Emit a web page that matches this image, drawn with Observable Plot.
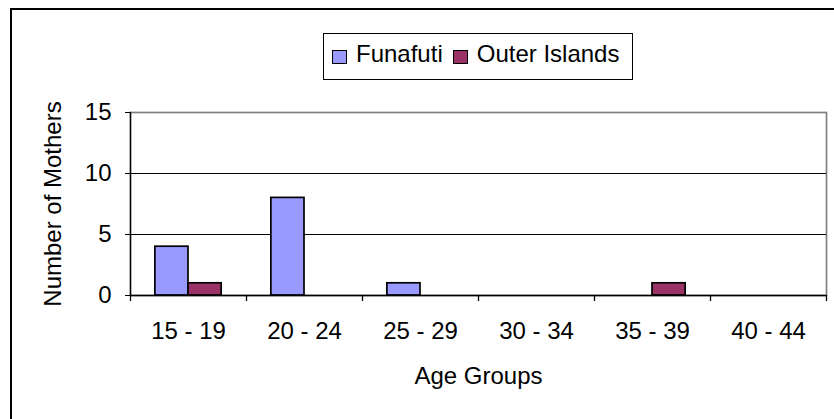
<!DOCTYPE html>
<html>
<head>
<meta charset="utf-8">
<script src="https://cdn.jsdelivr.net/npm/d3@7"></script>
<script src="https://cdn.jsdelivr.net/npm/@observablehq/plot@0.6"></script>
<style>
  body { margin: 0; background: #fff; font-family: "Liberation Sans", Arial, sans-serif; }
  #wrap { position: relative; width: 834px; height: 419px; overflow: hidden; background: #fff; }
  #chart { position: absolute; left: 0; top: 0; }
  #frame { position: absolute; left: 10px; top: 8px; width: 900px; height: 500px; border: 2px solid #000; pointer-events: none; }
  #legend { position: absolute; left: 323px; top: 33px; height: 45px; border: 1px solid #000; background: #fff;
            display: flex; align-items: center; padding: 0 13px 0 8px; font-size: 24px; color: #000; white-space: nowrap; }
  #legend .sw { width: 13px; height: 12px; border: 1.5px solid #000; display: inline-block; }
  #legend .lb { position: relative; top: -3px; margin-left: 9px; margin-right: 10px; }
  #legend .lb:last-child { margin-right: 0; }
</style>
</head>
<body>
<div id="wrap">
  <div id="chart"></div>
  <div id="frame"></div>
  <div id="legend"></div>
</div>
<script>
const ageGroups = ["15 - 19", "20 - 24", "25 - 29", "30 - 34", "35 - 39", "40 - 44"];
const funafuti = [4, 8, 1, 0, 0, 0];
const outerIslands = [1, 0, 0, 0, 1, 0];
const seriesNames = ["Funafuti", "Outer Islands"];
const seriesColors = ["#9999FF", "#993366"];
const yTicks = [0, 5, 10, 15];
const xTitle = "Age Groups";
const yTitle = "Number of Mothers";

const seriesValues = [funafuti, outerIslands];
const rows = seriesNames.flatMap((s, si) =>
  ageGroups.map((a, i) => ({age: a, series: s, value: seriesValues[si][i]})));

const W = 834, H = 419, mL = 130, mR = 8, mT = 112, mB = 124;
const step = (W - mL - mR) / ageGroups.length;
const barW = step / 3.5;
const gap = barW * 0.75;
const FS = 24;

function barsFor(si) {
  const leftInset = si === 0 ? gap : gap + barW;
  const rightInset = step - leftInset - barW;
  return Plot.barY(rows.filter(d => d.series === seriesNames[si] && d.value > 0), {
    x: "age", y: "value", fill: seriesColors[si], stroke: "#000", strokeWidth: 1.7,
    insetLeft: leftInset, insetRight: rightInset
  });
}

const chart = Plot.plot({
  width: W, height: H,
  marginLeft: mL, marginRight: mR, marginTop: mT, marginBottom: mB,
  style: {fontFamily: '"Liberation Sans", Arial, sans-serif', color: "#000", background: "#fff", overflow: "visible"},
  x: {domain: ageGroups, padding: 0},
  y: {domain: [yTicks[0], yTicks[yTicks.length - 1]], nice: false},
  marks: [
    Plot.frame({stroke: "#808080", strokeWidth: 1.7}),
    Plot.ruleY(yTicks.slice(1, -1), {stroke: "#000", strokeWidth: 1}),
    barsFor(0),
    barsFor(1),
    Plot.frame({anchor: "left", stroke: "#000", strokeWidth: 1.3}),
    Plot.ruleY([0], {stroke: "#000", strokeWidth: 1.3}),
    Plot.ruleX(ageGroups, {dx: -step / 2, y1: 0, y2: 0, insetBottom: -6, stroke: "#000", strokeWidth: 1.3}),
    Plot.ruleX([ageGroups[ageGroups.length - 1]], {dx: step / 2, y1: 0, y2: 0, insetBottom: -6, stroke: "#000", strokeWidth: 1.3}),
    Plot.axisY({ticks: yTicks, tickSize: 5, tickPadding: 14, fontSize: FS, label: null}),
    Plot.axisX({tickSize: 0, tickPadding: 26, fontSize: FS, label: null}),
    Plot.text([yTitle], {frameAnchor: "left", rotate: -90, dx: -77, fontSize: FS, textAnchor: "middle", lineAnchor: "middle"}),
    Plot.text([xTitle], {frameAnchor: "bottom", dy: 81, fontSize: FS, textAnchor: "middle", lineAnchor: "middle"})
  ]
});
document.getElementById("chart").appendChild(chart);

const legend = document.getElementById("legend");
seriesNames.forEach((s, i) => {
  const sw = document.createElement("span");
  sw.className = "sw";
  sw.style.background = seriesColors[i];
  const lb = document.createElement("span");
  lb.className = "lb";
  lb.textContent = s;
  legend.appendChild(sw);
  legend.appendChild(lb);
});
</script>
</body>
</html>
